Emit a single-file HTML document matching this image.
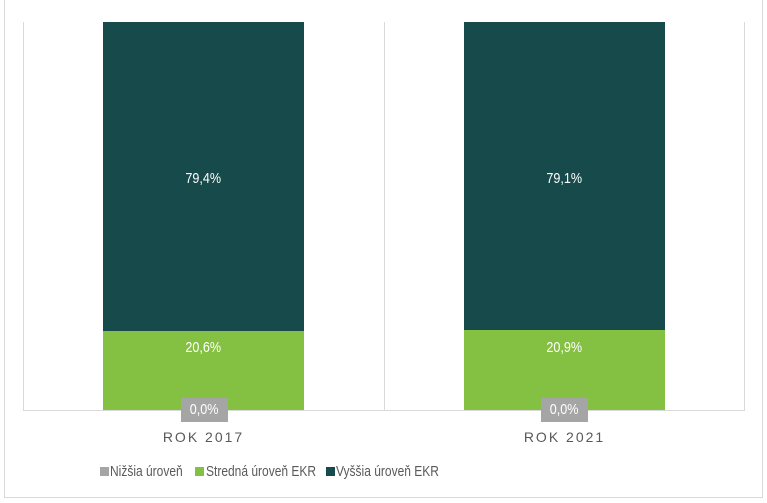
<!DOCTYPE html><html><head><style>
body{margin:0;background:#fff;font-family:"Liberation Sans",sans-serif}
.a{position:absolute}
.n{display:inline-block;transform:scaleX(0.84);transform-origin:center}
.l{position:absolute;color:#595959;font-size:15px;transform:scaleX(0.8);transform-origin:left;white-space:nowrap}
</style></head><body>
<div class="a" style="left:4px;top:0;width:757px;height:497px;border:1px solid #d9d9d9;border-top:none"></div>
<div class="a" style="left:23px;top:22px;width:1px;height:389px;background:#d9d9d9"></div>
<div class="a" style="left:384px;top:22px;width:1px;height:389px;background:#d9d9d9"></div>
<div class="a" style="left:744px;top:22px;width:1px;height:389px;background:#d9d9d9"></div>
<div class="a" style="left:23px;top:410px;width:722px;height:1px;background:#d9d9d9"></div>
<div class="a" style="left:103px;top:22px;width:201px;height:309px;background:#174a4a"></div>
<div class="a" style="left:103px;top:331px;width:201px;height:79px;background:#84c041"></div>
<div class="a" style="left:464px;top:22px;width:201px;height:308px;background:#174a4a"></div>
<div class="a" style="left:464px;top:330px;width:201px;height:80px;background:#84c041"></div>
<div class="a" style="left:103px;top:170px;width:201px;text-align:center;color:#fff;font-size:15px"><span class="n">79,4%</span></div>
<div class="a" style="left:464px;top:170px;width:201px;text-align:center;color:#fff;font-size:15px"><span class="n">79,1%</span></div>
<div class="a" style="left:103px;top:339px;width:201px;text-align:center;color:#fff;font-size:15px"><span class="n">20,6%</span></div>
<div class="a" style="left:464px;top:339px;width:201px;text-align:center;color:#fff;font-size:15px"><span class="n">20,9%</span></div>
<div class="a" style="left:181px;top:398px;width:47px;height:24px;background:#a5a5a5;color:#fff;font-size:15px;text-align:center;line-height:24px"><span class="n">0,0%</span></div>
<div class="a" style="left:541px;top:398px;width:47px;height:24px;background:#a5a5a5;color:#fff;font-size:15px;text-align:center;line-height:24px"><span class="n">0,0%</span></div>
<div class="a" style="left:103px;top:429px;width:201px;text-align:center;color:#595959;font-size:14px;letter-spacing:2px">ROK 2017</div>
<div class="a" style="left:464px;top:429px;width:201px;text-align:center;color:#595959;font-size:14px;letter-spacing:2px">ROK 2021</div>
<div class="a" style="left:100px;top:467px;width:9px;height:9px;background:#a5a5a5"></div>
<div class="l" style="left:110px;top:463px">Nižšia úroveň</div>
<div class="a" style="left:195px;top:467px;width:9px;height:9px;background:#84c041"></div>
<div class="l" style="left:206px;top:463px">Stredná úroveň EKR</div>
<div class="a" style="left:326px;top:467px;width:9px;height:9px;background:#174a4a"></div>
<div class="l" style="left:336px;top:463px">Vyššia úroveň EKR</div>
</body></html>
